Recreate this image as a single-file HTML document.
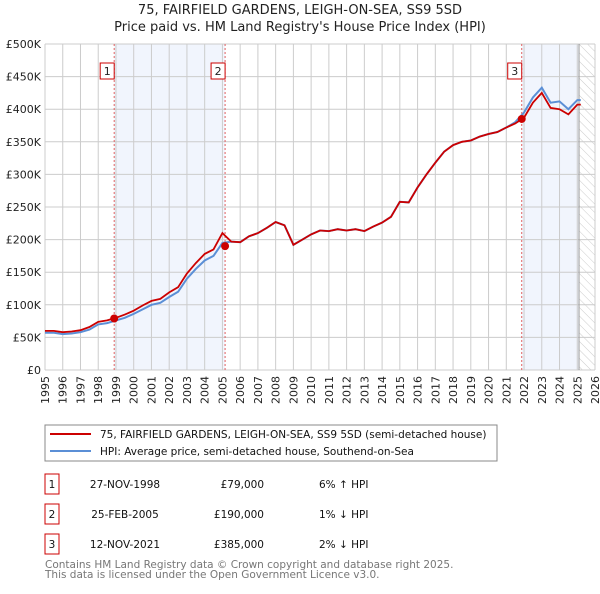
<!DOCTYPE html>
<html><head><meta charset="utf-8"><style>
body{margin:0;background:#fff;font-family:"DejaVu Sans","Liberation Sans",sans-serif;}
svg text{font-family:"DejaVu Sans","Liberation Sans",sans-serif;}
</style></head><body>
<svg id="c" width="600" height="590" xmlns="http://www.w3.org/2000/svg">
<defs><pattern id="hatch" width="6" height="6" patternUnits="userSpaceOnUse" patternTransform="rotate(-45)"><line x1="0" y1="0" x2="0" y2="6" stroke="#ccc" stroke-width="1"/></pattern></defs>
<text x="300" y="14" text-anchor="middle" font-size="13" fill="#222">75, FAIRFIELD GARDENS, LEIGH-ON-SEA, SS9 5SD</text>
<text x="300" y="31" text-anchor="middle" font-size="13" fill="#222">Price paid vs. HM Land Registry's House Price Index (HPI)</text>
<g id="plot"></g>
<rect x="45" y="425" width="452" height="36" fill="#fff" stroke="#888"/>
<line x1="50" y1="434" x2="91" y2="434" stroke="#cc0000" stroke-width="2"/>
<text x="100" y="438" font-size="10.5" fill="#111">75, FAIRFIELD GARDENS, LEIGH-ON-SEA, SS9 5SD (semi-detached house)</text>
<line x1="50" y1="451" x2="91" y2="451" stroke="#5b8fd6" stroke-width="2"/>
<text x="100" y="455" font-size="10.5" fill="#111">HPI: Average price, semi-detached house, Southend-on-Sea</text>
<g id="table"></g>
<text x="45" y="568" font-size="10.5" fill="#777">Contains HM Land Registry data © Crown copyright and database right 2025.</text>
<text x="45" y="578" font-size="10.5" fill="#777">This data is licensed under the Open Government Licence v3.0.</text>
</svg>
<script>
const years=[1995,1995.5,1996,1996.5,1997,1997.5,1998,1998.5,1999,1999.5,2000,2000.5,2001,2001.5,2002,2002.5,2003,2003.5,2004,2004.5,2005,2005.5,2006,2006.5,2007,2007.5,2008,2008.5,2009,2009.5,2010,2010.5,2011,2011.5,2012,2012.5,2013,2013.5,2014,2014.5,2015,2015.5,2016,2016.5,2017,2017.5,2018,2018.5,2019,2019.5,2020,2020.5,2021,2021.5,2022,2022.5,2023,2023.5,2024,2024.5,2025,2025.2];
const hpi=[57,57,55,56,58,62,70,72,76,80,86,93,100,103,112,120,140,155,168,175,195,197,196,205,210,218,227,222,192,200,208,214,213,216,214,216,213,220,226,235,258,257,280,300,318,335,345,350,352,358,362,365,372,380,395,418,433,410,412,400,414,414];
const price=[60,60,58,59,61,66,74,76,80,85,91,99,106,109,119,127,148,164,178,185,210,197,196,205,210,218,227,222,192,200,208,214,213,216,214,216,213,220,226,235,258,257,280,300,318,335,345,350,352,358,362,365,372,378,387,410,425,402,400,392,407,407];
const saleYears=[1998.9,2005.15,2021.87];
const salePrices=[79,190,385];
const saleLabels=["1","2","3"];
const saleDates=["27-NOV-1998","25-FEB-2005","12-NOV-2021"];
const salePriceText=["£79,000","£190,000","£385,000"];
const saleHpiText=["6% ↑ HPI","1% ↓ HPI","2% ↓ HPI"];
const yTicks=[0,50,100,150,200,250,300,350,400,450,500];
const yTickLabels=["£0","£50K","£100K","£150K","£200K","£250K","£300K","£350K","£400K","£450K","£500K"];
const xTicks=[];for(let y=1995;y<=2026;y++)xTicks.push(y);

const X0=45,X1=595,Y0=370,Y1=44;
const xs=v=>X0+(v-1995)/(2026-1995)*(X1-X0);
const ys=v=>Y0-(v/500)*(Y0-Y1);
const NS="http://www.w3.org/2000/svg";
const plot=document.getElementById('plot');
function mk(tag,attrs,parent){const e=document.createElementNS(NS,tag);for(const k in attrs)e.setAttribute(k,attrs[k]);(parent||plot).appendChild(e);return e;}

let e;
e=mk('rect',{x:xs(saleYears[0]),y:Y1,width:xs(saleYears[1])-xs(saleYears[0]),height:Y0-Y1,fill:'#eef3fc',opacity:0.8});


e=mk('rect',{x:xs(saleYears[2]),y:Y1,width:xs(2025.1)-xs(saleYears[2]),height:Y0-Y1,fill:'#eef3fc',opacity:0.8});


e=mk('rect',{x:xs(2025.1),y:Y1,width:X1-xs(2025.1),height:Y0-Y1,fill:'url(#hatch)'});


xTicks.forEach(t=>{
  e=mk('line',{x1:xs(t),x2:xs(t),y1:Y1,y2:Y0,stroke:'#ccc','stroke-width':1});
  
  
  e=mk('text',{x:0,y:0,transform:`translate(${xs(t)+4},${Y0+6}) rotate(-90)`,'text-anchor':'end','font-size':11,fill:'#222'});
  e.textContent=t;
  
  
});
yTicks.forEach((t,i)=>{
  e=mk('line',{x1:X0,x2:X1,y1:ys(t),y2:ys(t),stroke:'#ccc','stroke-width':1});
  
  
  e=mk('text',{x:X0-4,y:ys(t)+4,'text-anchor':'end','font-size':11,fill:'#222'});
  e.textContent=yTickLabels[i];
  
  
});
e=mk('line',{x1:xs(2025.1),x2:xs(2025.1),y1:Y1,y2:Y0,stroke:'#999','stroke-width':1});


saleYears.forEach((s,i)=>{
  e=mk('line',{x1:xs(s),x2:xs(s),y1:Y1,y2:Y0,stroke:'#e06060','stroke-width':1,'stroke-dasharray':'2,2'});
  
  
});
const pts=a=>a.map((v,i)=>xs(years[i]).toFixed(1)+','+ys(v).toFixed(1)).join(' ');
e=mk('polyline',{points:pts(hpi),fill:'none',stroke:'#5b8fd6','stroke-width':2});


e=mk('polyline',{points:pts(price),fill:'none',stroke:'#cc0000','stroke-width':1.8});


saleYears.forEach((s,i)=>{
  e=mk('circle',{cx:xs(s),cy:ys(salePrices[i]),r:4,fill:'#cc0000'});
  
  
  e=mk('rect',{x:xs(s)-14,y:63,width:14,height:16,fill:'#fff',stroke:'#cc0000'});
  
  
  e=mk('text',{x:xs(s)-7,y:75,'text-anchor':'middle','font-size':11,fill:'#222'});
  e.textContent=saleLabels[i];
  
  
});
const tb=document.getElementById('table');
saleYears.forEach((s,i)=>{
  const y=484+i*30;
  e=mk('rect',{x:45,y:y-10,width:14,height:20,fill:'#fff',stroke:'#cc0000'},tb);
  
  
  e=mk('text',{x:52,y:y+4,'text-anchor':'middle','font-size':10.5,fill:'#111'},tb);e.textContent=saleLabels[i];
  
  
  e=mk('text',{x:125,y:y+4,'text-anchor':'middle','font-size':10.5,fill:'#111'},tb);e.textContent=saleDates[i];
  
  
  e=mk('text',{x:264,y:y+4,'text-anchor':'end','font-size':10.5,fill:'#111'},tb);e.textContent=salePriceText[i];
  
  
  e=mk('text',{x:319,y:y+4,'font-size':10.5,fill:'#111'},tb);e.textContent=saleHpiText[i];
  
  
});
</script>
</body></html>
